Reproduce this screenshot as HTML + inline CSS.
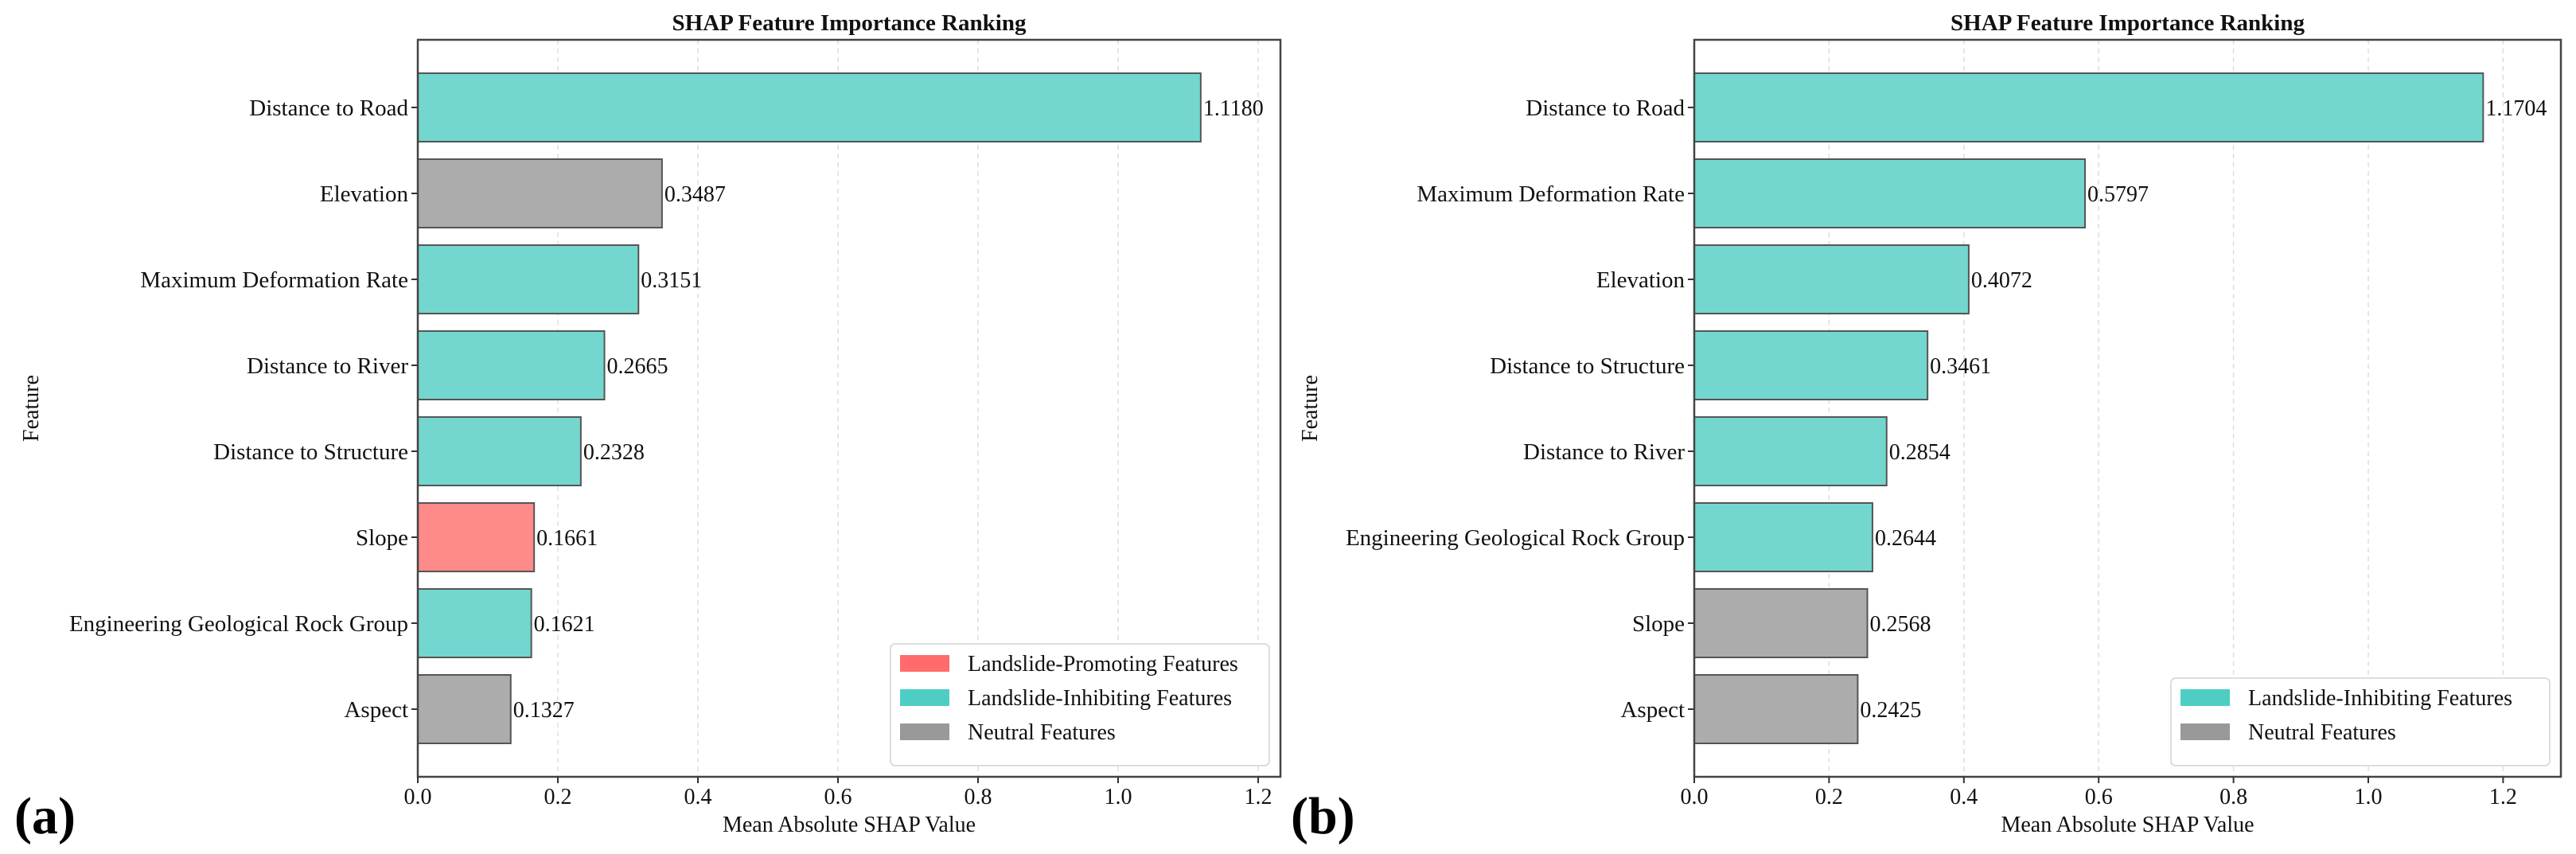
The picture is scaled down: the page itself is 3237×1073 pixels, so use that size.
<!DOCTYPE html>
<html><head><meta charset="utf-8">
<style>
html,body{margin:0;padding:0;background:#fff;}
svg{display:block;font-family:"Liberation Serif",serif;}
</style></head>
<body>
<svg id="chart" width="3237" height="1073" viewBox="0 0 3237 1073" xmlns="http://www.w3.org/2000/svg"></svg>
<script>
// Panel (a) data
const catsA = ["Distance to Road","Elevation","Maximum Deformation Rate","Distance to River","Distance to Structure","Slope","Engineering Geological Rock Group","Aspect"];
const valsA = [1.1180,0.3487,0.3151,0.2665,0.2328,0.1661,0.1621,0.1327];
const typesA = ["inh","neu","inh","inh","inh","pro","inh","neu"];
// Panel (b) data
const catsB = ["Distance to Road","Maximum Deformation Rate","Elevation","Distance to Structure","Distance to River","Engineering Geological Rock Group","Slope","Aspect"];
const valsB = [1.1704,0.5797,0.4072,0.3461,0.2854,0.2644,0.2568,0.2425];
const typesB = ["inh","inh","inh","inh","inh","inh","neu","neu"];
const xTicks = [0.0,0.2,0.4,0.6,0.8,1.0,1.2];
const legendA = [["pro","Landslide-Promoting Features"],["inh","Landslide-Inhibiting Features"],["neu","Neutral Features"]];
const legendB = [["inh","Landslide-Inhibiting Features"],["neu","Neutral Features"]];

const fill = {pro:"#ff8a8a", inh:"#73d7cf", neu:"#acacac"};
const legFill = {pro:"#ff6b6b", inh:"#4ecdc4", neu:"#999999"};
const NS="http://www.w3.org/2000/svg";
const svg=document.getElementById('chart');
function mk(tag,attrs,parent){const e=document.createElementNS(NS,tag);for(const k in attrs)e.setAttribute(k,attrs[k]);(parent||svg).appendChild(e);return e;}

function panel(o){
  const g=mk('g',{});
  
  
  const L=o.left,R=o.right,T=50,B=976,unit=o.unit;
  const sx=v=>L+v*unit;
  const n=o.cats.length, pitch=108, top0=92, bh=86;
  const sy=i=>top0+i*pitch;
  // grid
  xTicks.forEach(t=>{
    const gl=mk('line',{x1:sx(t),x2:sx(t),y1:T,y2:B,stroke:"#dddddd","stroke-width":1.5,"stroke-dasharray":"6,5"},g);
    
    
  });
  // bars
  o.cats.forEach((c,i)=>{
    const v=o.vals[i];
    const r=mk('rect',{x:sx(0),y:sy(i),width:sx(v)-sx(0),height:bh,fill:fill[o.types[i]],stroke:"#555",'stroke-width':2},g);
    
    
    const vl=mk('text',{x:sx(v)+3,y:sy(i)+bh/2+10,'font-size':28,fill:"#111"},g);
    vl.textContent=v.toFixed(4);
    
    
    const tk=mk('line',{x1:L-8,x2:L,y1:sy(i)+bh/2,y2:sy(i)+bh/2,stroke:"#333",'stroke-width':2},g);
    
    
    const tl=mk('text',{x:L-12,y:sy(i)+bh/2+10,'font-size':29,'text-anchor':'end',fill:"#111"},g);
    tl.textContent=c;
    
    
  });
  // frame
  const fr=mk('rect',{x:L,y:T,width:R-L,height:B-T,fill:"none",stroke:"#444",'stroke-width':2.5},g);
  
  
  // x ticks
  xTicks.forEach(t=>{
    const tk=mk('line',{x1:sx(t),x2:sx(t),y1:B,y2:B+8,stroke:"#333",'stroke-width':2},g);
    
    
    const tl=mk('text',{x:sx(t),y:B+34,'font-size':28,'text-anchor':'middle',fill:"#111"},g);
    tl.textContent=t.toFixed(1);
    
    
  });
  const xl=mk('text',{x:(L+R)/2,y:1045,'font-size':28,'text-anchor':'middle',fill:"#111"},g);
  xl.textContent="Mean Absolute SHAP Value";
  
  
  const yl=mk('text',{x:0,y:0,'font-size':28,'text-anchor':'middle',fill:"#111",transform:`translate(${o.ylabX},513) rotate(-90)`},g);
  yl.textContent="Feature";
  
  
  const ti=mk('text',{x:(L+R)/2,y:38,'font-size':29,'font-weight':'bold','text-anchor':'middle',fill:"#111"},g);
  ti.textContent="SHAP Feature Importance Ranking";
  
  
  const pl=mk('text',{x:o.plX,y:1047,'font-size':66,'font-weight':'bold',fill:"#000"},g);
  pl.textContent=o.panelLabel;
  
  
  // legend
  const lg=mk('g',{},g);
  
  
  const lh=o.legend.length*43+24, lx=o.legX, ly=B-14-lh, lw=R-14-lx;
  mk('rect',{x:lx,y:ly,width:lw,height:lh,rx:6,fill:"#fff",stroke:"#dddddd",'stroke-width':2},lg);
  o.legend.forEach((e,i)=>{
    const cy=ly+24+i*43;
    const p=mk('rect',{x:lx+12,y:cy-10,width:62,height:21,fill:legFill[e[0]]},lg);
    
    
    const t=mk('text',{x:lx+97,y:cy+10,'font-size':28,fill:"#111"},lg);
    t.textContent=e[1];
    
    
  });
}
panel({name:'panel-a',left:525,right:1609,unit:880,cats:catsA,vals:valsA,types:typesA,ylabX:48,plX:18,panelLabel:'(a)',legend:legendA,legX:1119});
panel({name:'panel-b',left:2129,right:3218,unit:847,cats:catsB,vals:valsB,types:typesB,ylabX:1655,plX:1622,panelLabel:'(b)',legend:legendB,legX:2728});
</script>
</body></html>
